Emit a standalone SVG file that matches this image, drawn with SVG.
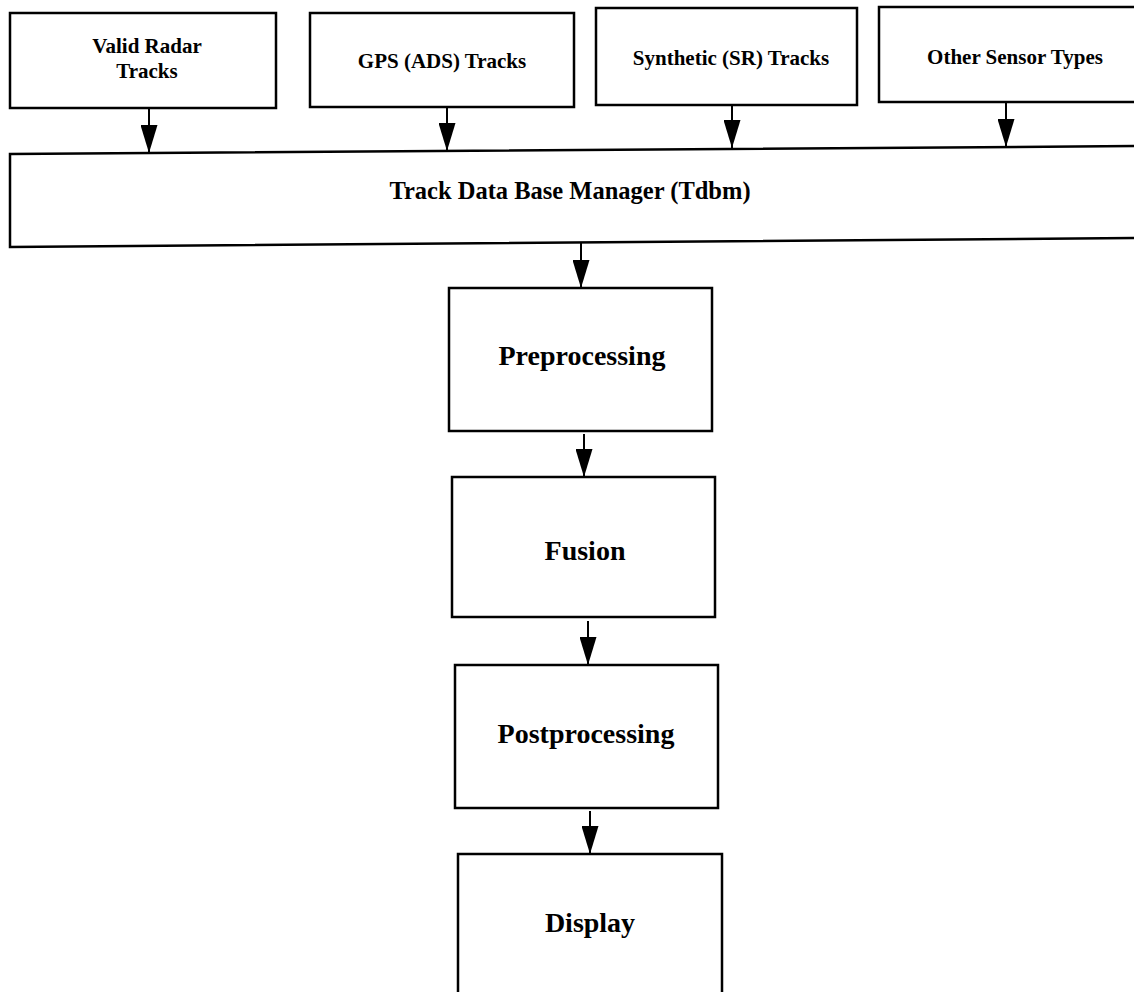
<svg xmlns="http://www.w3.org/2000/svg" width="1134" height="992" viewBox="0 0 1134 992">
<style>
.box{fill:#fff;stroke:#000;stroke-width:2.5}
.t{font-family:"Liberation Serif","Times New Roman",serif;font-weight:bold;fill:#000;text-anchor:middle}
.s{font-size:21px}
.m{font-size:24.5px}
.l{font-size:28px}
.c{stroke:#000;stroke-width:2;fill:none}
</style>
<defs>
<marker id="ah" viewBox="0 0 28 17" refX="28" refY="8.5" markerWidth="28" markerHeight="17" markerUnits="userSpaceOnUse" orient="auto">
<path d="M0,0 L28,8.5 L0,17 z" fill="#000"/>
</marker>
</defs>
<rect width="1134" height="992" fill="#fff"/>
<g id="radar">
<rect class="box" x="10" y="13" width="266" height="95"/>
<text class="t s" x="147" y="53">Valid Radar</text>
<text class="t s" x="147" y="78">Tracks</text>
</g>
<g id="gps">
<rect class="box" x="310" y="13" width="264" height="94"/>
<text class="t s" x="442" y="68">GPS (ADS) Tracks</text>
</g>
<g id="synthetic">
<rect class="box" x="596" y="8" width="261" height="97"/>
<text class="t s" x="731" y="65">Synthetic (SR) Tracks</text>
</g>
<g id="other">
<rect class="box" x="879" y="7" width="270" height="95"/>
<text class="t s" x="1015" y="64">Other Sensor Types</text>
</g>
<g id="tdbm">
<polygon class="box" points="10,154 1145,146 1145,238 10,247"/>
<text class="t m" x="570" y="199">Track Data Base Manager (Tdbm)</text>
</g>
<g id="preprocessing">
<rect class="box" x="449" y="288" width="263" height="143"/>
<text class="t l" x="582" y="365">Preprocessing</text>
</g>
<g id="fusion">
<rect class="box" x="452" y="477" width="263" height="140"/>
<text class="t l" x="585" y="560">Fusion</text>
</g>
<g id="postprocessing">
<rect class="box" x="455" y="665" width="263" height="143"/>
<text class="t l" x="586" y="743">Postprocessing</text>
</g>
<g id="display">
<rect class="box" x="458" y="854" width="264" height="150"/>
<text class="t l" x="590" y="932">Display</text>
</g>
<g id="connectors">
<line class="c" x1="149" y1="108" x2="149" y2="153" marker-end="url(#ah)"/>
<line class="c" x1="447" y1="107" x2="447" y2="151" marker-end="url(#ah)"/>
<line class="c" x1="732" y1="105" x2="732" y2="148" marker-end="url(#ah)"/>
<line class="c" x1="1006" y1="102" x2="1006" y2="147" marker-end="url(#ah)"/>
<line class="c" x1="581" y1="243" x2="581" y2="288" marker-end="url(#ah)"/>
<line class="c" x1="584" y1="434" x2="584" y2="477" marker-end="url(#ah)"/>
<line class="c" x1="588" y1="621" x2="588" y2="665" marker-end="url(#ah)"/>
<line class="c" x1="590" y1="811" x2="590" y2="854" marker-end="url(#ah)"/>
</g>
</svg>
